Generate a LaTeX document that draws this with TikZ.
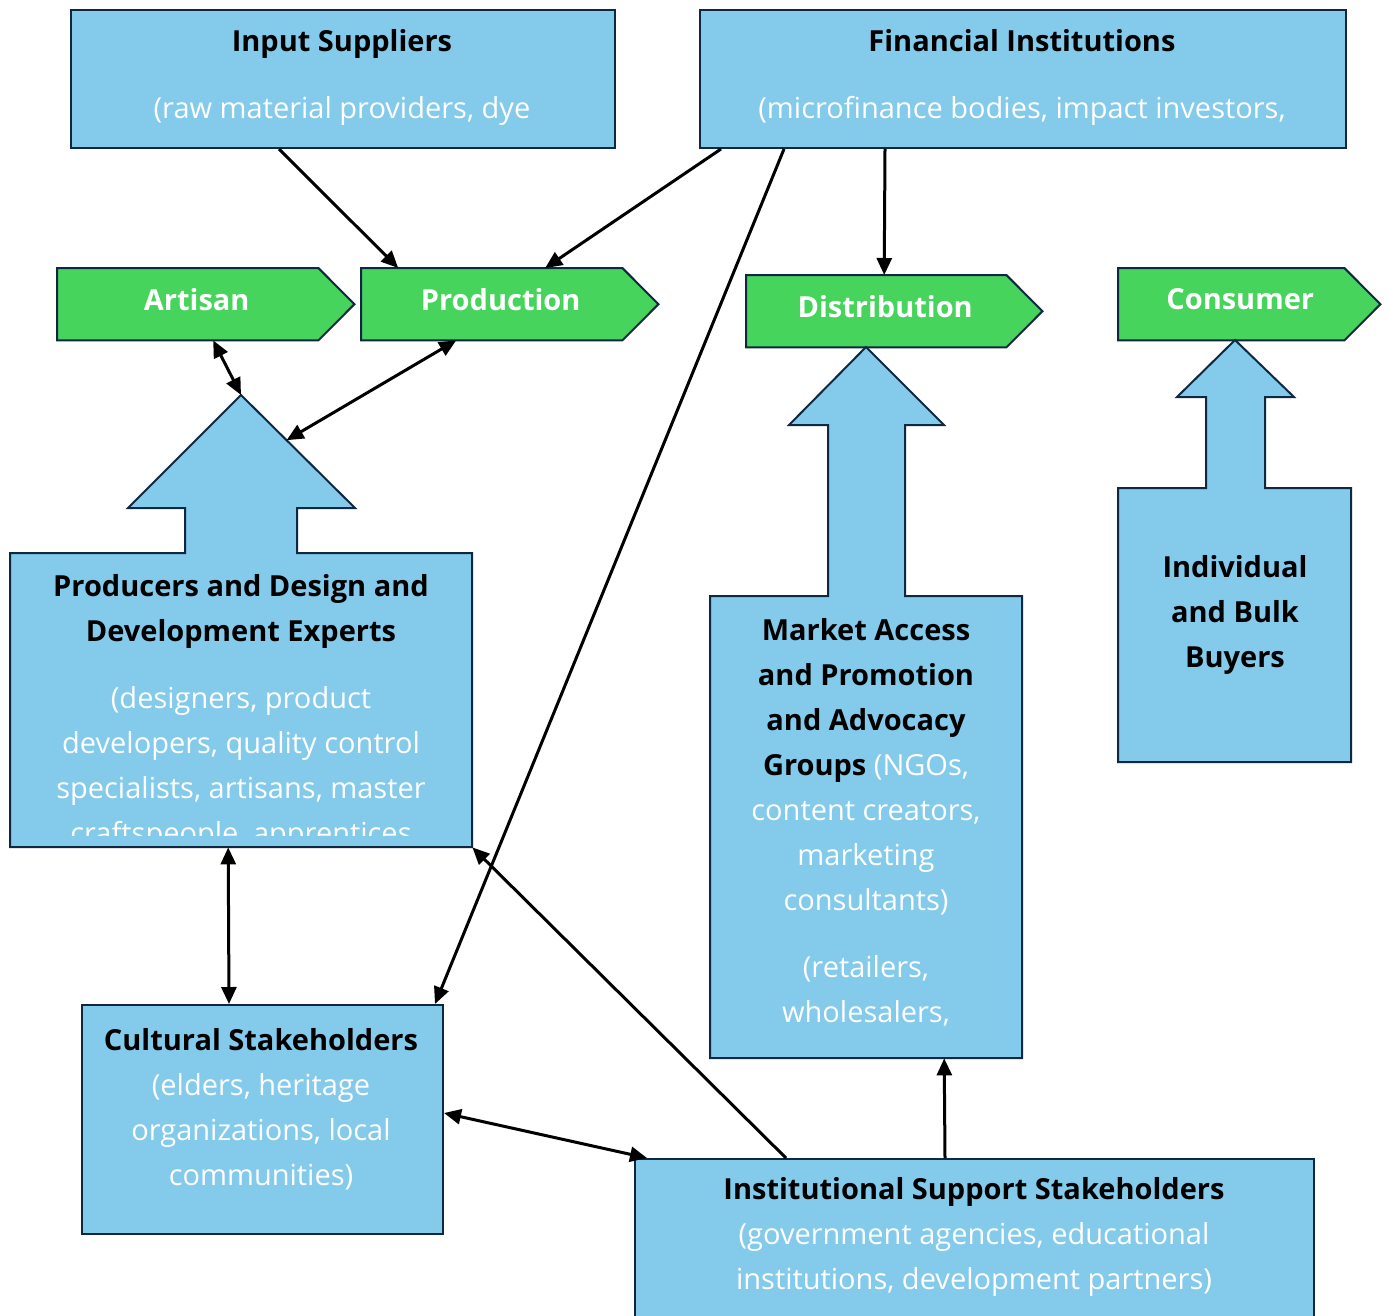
\documentclass[tikz,border=0pt]{standalone}
\usepackage{fontspec}
\setmainfont{Open Sans}
\usetikzlibrary{arrows.meta, calc}
\definecolor{skyb}{HTML}{83CAEB}
\definecolor{leaf}{HTML}{47D45D}
\definecolor{navy}{HTML}{0E2841}
\newcommand{\wt}[1]{\textcolor{white}{#1}}

\begin{document}
\begin{tikzpicture}[x=1pt, y=-1pt, >={Triangle[length=17pt,width=15pt]},
  box/.style={rectangle, fill=skyb, inner sep=0pt, anchor=north west},
  stage/.style={rectangle, fill=leaf, inner sep=0pt, anchor=north west, minimum height=72pt},
  rim/.style={draw=navy, line width=2pt},
  txt/.style={align=center, font=\fontsize{29}{45}\selectfont},
  stagetxt/.style={text=white, font=\fontsize{29}{34}\selectfont\bfseries},
  link/.style={line width=3pt}]

  \useasboundingbox (0,0) rectangle (1388,1315);

  % boxes
  \node[box, rim, minimum width=544pt, minimum height=138pt] (insup) at (70,9) {};
  \node[box, rim, minimum width=646pt, minimum height=138pt] (finin) at (699,9) {};
  \node[box, minimum width=462pt, minimum height=294pt] (prodex) at (10,553) {};
  \node[box, minimum width=312pt, minimum height=462pt] (market) at (710,596) {};
  \node[box, minimum width=233pt, minimum height=274pt] (buyers) at (1118,488) {};
  \node[box, rim, minimum width=361pt, minimum height=229pt] (cultur) at (81,1004) {};
  \node[box, rim, minimum width=679pt, minimum height=180pt] (instit) at (634,1158) {};

  % value chain stages
  \node[stage, minimum width=261pt] (art) at (57,268) {};
  \node[stage, minimum width=261pt] (prod) at (361,268) {};
  \node[stage, minimum width=260pt] (dist) at (746,275) {};
  \node[stage, minimum width=226pt] (cons) at (1118,268) {};
  \foreach \s in {art,prod,dist,cons}{
    \fill[leaf] ([xshift=-1pt]\s.north east) -- ([xshift=36pt]\s.east) -- ([xshift=-1pt]\s.south east) -- cycle;
    \draw[rim] (\s.north west) -- (\s.north east) -- ([xshift=36pt]\s.east) -- (\s.south east) -- (\s.south west) -- cycle;
  }

  % block arrows on top of the boxes
  \begin{scope}[shift={(prodex.north west)}]
    \fill[skyb] (175,1) -- (175,-45) -- (118,-45) -- (231,-158) coordinate (prodtip) -- (345,-45) coordinate (prodhead) -- (287,-45) -- (287,1) -- cycle;
    \draw[rim] (0,294) -- (0,0) -- (175,0) -- (175,-45) -- (118,-45) -- (231,-158) -- (345,-45) -- (287,-45) -- (287,0) -- (462,0) -- (462,294) -- cycle;
  \end{scope}
  \begin{scope}[shift={(market.north west)}]
    \fill[skyb] (118,1) -- (118,-171) -- (79,-171) -- (156,-249) -- (234,-171) -- (195,-171) -- (195,1) -- cycle;
    \draw[rim] (0,462) -- (0,0) -- (118,0) -- (118,-171) -- (79,-171) -- (156,-249) -- (234,-171) -- (195,-171) -- (195,0) -- (312,0) -- (312,462) -- cycle;
  \end{scope}
  \begin{scope}[shift={(buyers.north west)}]
    \fill[skyb] (88,1) -- (88,-91) -- (59,-91) -- (117,-148) -- (176,-91) -- (147,-91) -- (147,1) -- cycle;
    \draw[rim] (0,274) -- (0,0) -- (88,0) -- (88,-91) -- (59,-91) -- (117,-148) -- (176,-91) -- (147,-91) -- (147,0) -- (233,0) -- (233,274) -- cycle;
  \end{scope}

  % labels
  \node[stagetxt] (arttxt) at ($(art.center)+(9,-5)$) {Artisan};
  \node[stagetxt] (prodtxt) at ($(prod.center)+(9,-5)$) {Production};
  \node[stagetxt] (disttxt) at ($(dist.center)+(9,-5)$) {Distribution};
  \node[stagetxt] (constxt) at ($(cons.center)+(9,-5)$) {Consumer};

  \node[txt] (insuptxt) at (342,77) {\textbf{Input Suppliers}\\[22pt] \wt{(raw material providers, dye}};
  \node[txt] (finintxt) at (1022,77) {\textbf{Financial Institutions}\\[22pt] \wt{(microfinance bodies, impact investors,}};
  \begin{scope}
    \clip (prodex.north west) rectangle (472,835);
    \node[txt] (prodextxt) at (241,712) {\textbf{Producers and Design and}\\ \textbf{Development Experts}\\[22pt]
      \wt{(designers, product}\\ \wt{developers, quality control}\\ \wt{specialists, artisans, master}\\ \wt{craftspeople, apprentices}};
  \end{scope}
  \node[txt] (markettxt) at (866,822) {\textbf{Market Access}\\ \textbf{and Promotion}\\ \textbf{and Advocacy}\\
    \textbf{Groups} \wt{(NGOs,}\\ \wt{content creators,}\\ \wt{marketing}\\ \wt{consultants)}\\[22pt]
    \wt{(retailers,}\\ \wt{wholesalers,}};
  \node[txt, font=\fontsize{29}{45}\selectfont\bfseries] (buyerstxt) at (1235,615) {Individual\\ and Bulk\\ Buyers};
  \node[txt] (culturtxt) at (261,1109) {\textbf{Cultural Stakeholders}\\ \wt{(elders, heritage}\\
    \wt{organizations, local}\\ \wt{communities)}};
  \node[txt] (instittxt) at (974,1237) {\textbf{Institutional Support Stakeholders}\\
    \wt{(government agencies, educational}\\ \wt{institutions, development partners)}};

  % connectors
  \draw[link, ->] ($(insup.south)+(-64,0)$) -- ($(prod.north)+(-93.5,0)$);
  \draw[link, ->] ($(finin.south)+(-302,0)$) -- ($(prod.north)+(53.5,0)$);
  \draw[link, ->] ($(finin.south)+(-239,0)$) -- ($(cultur.north east)+(-9,0)$);
  \draw[link, ->] ($(finin.south)+(-138,0)$) -- ($(dist.north)+(8,0)$);
  \draw[link, <->] ($(art.south)+(25.5,0)$) -- (prodtip);
  \draw[link, <->] ($(prod.south)+(-35.5,0)$) -- ($(prodtip)!0.4!(prodhead)$);
  \draw[link, <->] ($(prodex.south)+(-13,0)$) -- ($(cultur.north)+(-33.5,0)$);
  \draw[link, ->] ($(instit.north)+(-188.5,0)$) -- (prodex.south east);
  \draw[link, <->] ($(cultur.east)+(0,-6.5)$) -- ($(instit.north west)+(13,0)$);
  \draw[link, ->] ($(instit.north)+(-29.5,0)$) -- ($(market.south)+(78,0)$);
\end{tikzpicture}
\end{document}
